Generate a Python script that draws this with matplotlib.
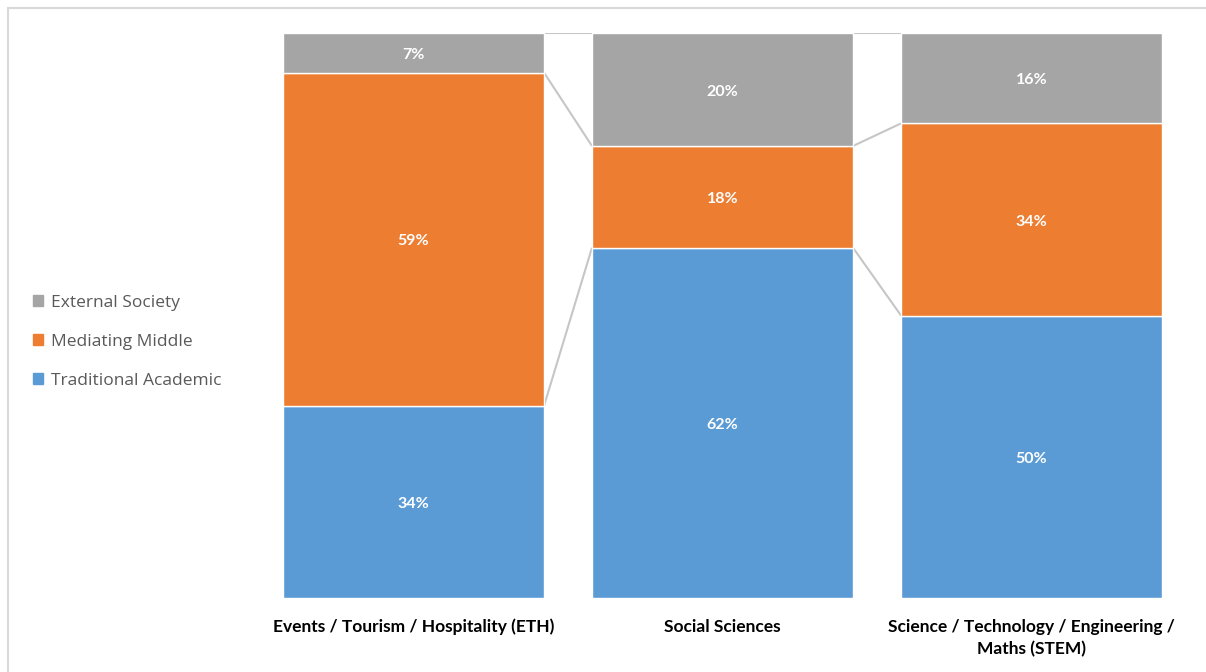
import matplotlib
matplotlib.use("Agg")
import matplotlib.pyplot as plt
from matplotlib.patches import Rectangle
import numpy as np

categories = ["Events / Tourism / Hospitality (ETH)", "Social Sciences",
              "Science / Technology / Engineering /\nMaths (STEM)"]
series_names = ["Traditional Academic", "Mediating Middle", "External Society"]
traditional = [34, 62, 50]
mediating = [59, 18, 34]
external = [7, 20, 16]
colors = ["#5B9BD5", "#ED7D31", "#A5A5A5"]

W, H = 1206, 672
fig = plt.figure(figsize=(W / 100, H / 100), dpi=100)
# border (left/top visible)
fig.add_artist(Rectangle((8 / W, -0.1), 1.2, (H - 8) / H + 0.1, transform=fig.transFigure,
                         fill=False, edgecolor="#d9d9d9", linewidth=1.5))

x0, x1, y0, y1 = 283, 1162, 33, 598
ax = fig.add_axes([x0 / W, 1 - y1 / H, (x1 - x0) / W, (y1 - y0) / H])
width = 261 / 309
xs = np.arange(len(categories))
data = [traditional, mediating, external]
bottom = np.zeros(len(categories))
tops = []
for vals, col, name in zip(data, colors, series_names):
    vals = np.array(vals, dtype=float)
    ax.bar(xs, vals, width, bottom=bottom, color=col, edgecolor="white", linewidth=1, label=name, zorder=2)
    for xi, v, b in zip(xs, vals, bottom):
        ax.text(xi, b + v / 2 - 0.4, f"{int(v)}%", ha="center", va="center", color="white",
                fontsize=11.5, fontweight="bold", family="Lato", zorder=3)
    bottom = bottom + vals
    tops.append(bottom.copy())

# series lines
for t in tops:
    for i in range(len(categories) - 1):
        ax.plot([xs[i] + width / 2, xs[i + 1] - width / 2], [t[i], t[i + 1]],
                color="#c6c6c6", linewidth=1.5, zorder=1, solid_capstyle="butt")

ax.set_xlim(-width / 2, len(categories) - 1 + width / 2)
ax.set_ylim(0, 100)
ax.set_xticks(xs)
ax.set_xticklabels(categories, fontsize=12.5, fontweight="bold", family="Lato", color="black",
                   linespacing=1.45)
ax.tick_params(axis="x", length=0, pad=15)
ax.set_yticks([])
for s in ax.spines.values():
    s.set_visible(False)

handles = [Rectangle((0, 0), 1, 1, color=c) for c in colors[::-1]]
leg = fig.legend(handles, series_names[::-1], loc="center left",
                 bbox_to_anchor=(33 / W, 1 - 342 / H), frameon=False,
                 borderaxespad=0, borderpad=0,
                 prop={"family": "Open Sans", "size": 12.5}, labelcolor="#595959",
                 handlelength=0.6, handleheight=0.6, handletextpad=0.45, labelspacing=1.33)

fig.savefig("out.png", dpi=100)
